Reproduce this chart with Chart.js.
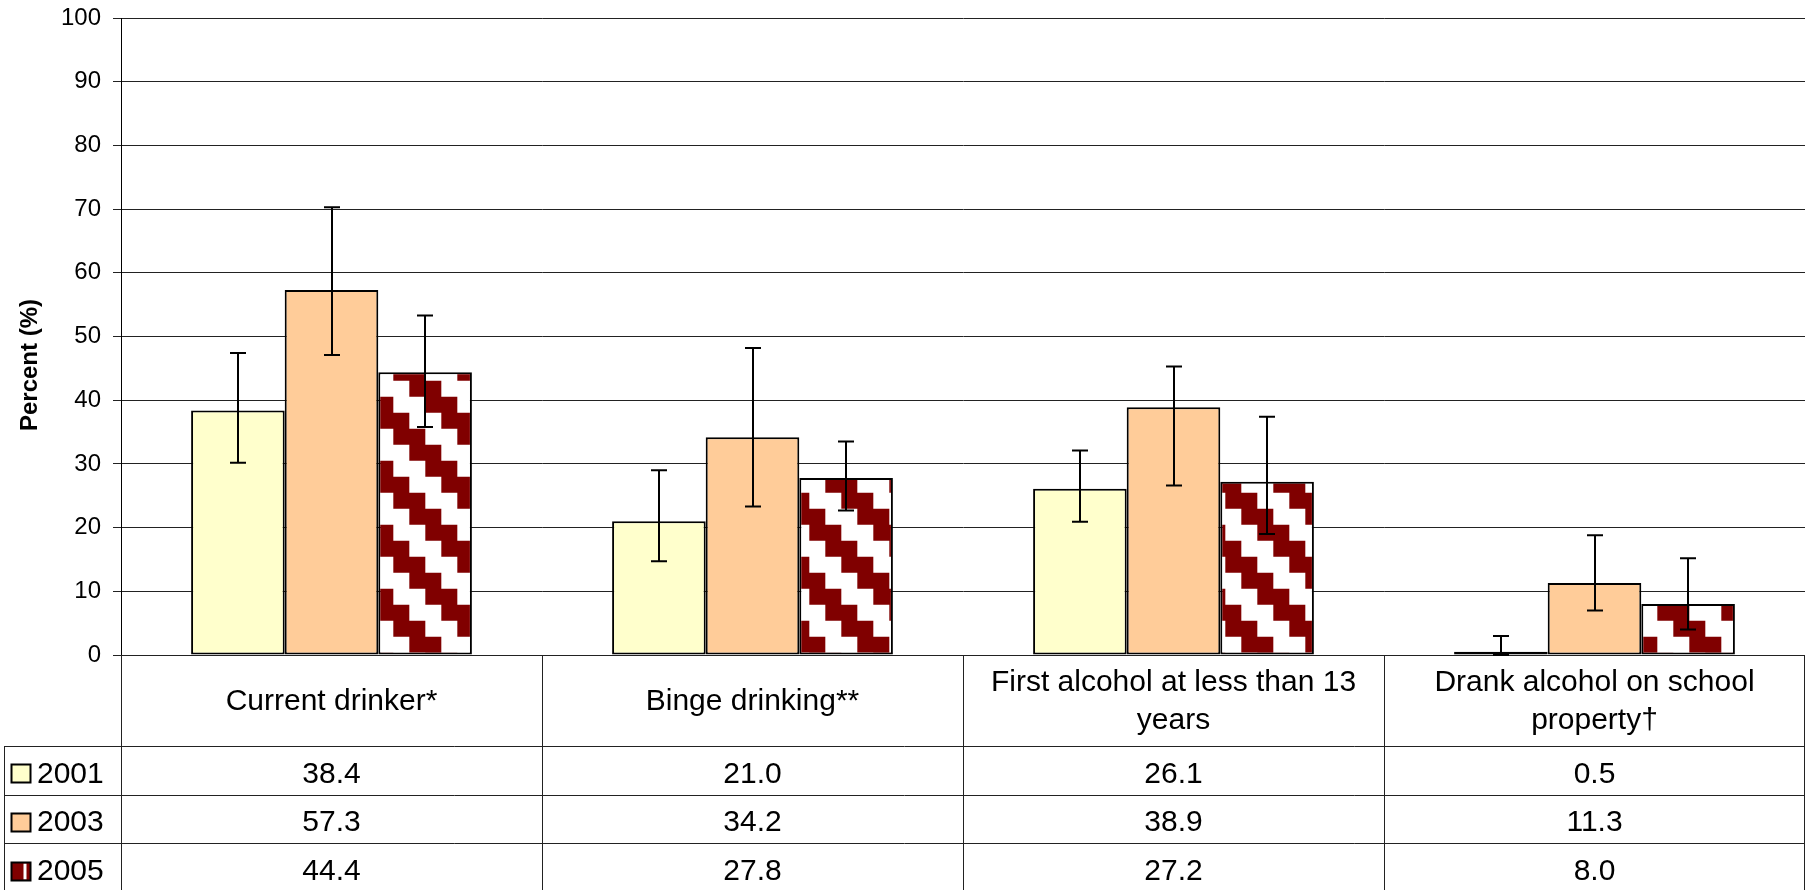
<!DOCTYPE html>
<html><head><meta charset="utf-8">
<style>html,body{margin:0;padding:0;background:#fff;overflow:hidden}#wrap{width:1811px;height:890px;position:relative}</style>
<script src="https://cdn.jsdelivr.net/npm/chart.js@4.4.1/dist/chart.umd.min.js"></script>
</head><body><div id="wrap"><canvas id="c" width="1811" height="890"></canvas></div>
<script>
// ---- data ----
const categories = [['Current drinker*'], ['Binge drinking**'], ['First alcohol at less than 13', 'years'], ['Drank alcohol on school', 'property\u2020']];
const seriesNames = ['2001', '2003', '2005'];
const values2001 = [38.4, 21.0, 26.1, 0.5];
const values2003 = [57.3, 34.2, 38.9, 11.3];
const values2005 = [44.4, 27.8, 27.2, 8.0];
const lower2001 = [30.2, 14.7, 20.9, 0.0];
const upper2001 = [47.4, 29.0, 32.1, 3.0];
const lower2003 = [47.1, 23.3, 26.6, 7.0];
const upper2003 = [70.3, 48.2, 45.3, 18.8];
const lower2005 = [35.8, 22.7, 19.0, 4.0];
const upper2005 = [53.3, 33.5, 37.4, 15.2];
const yTicks = [0, 10, 20, 30, 40, 50, 60, 70, 80, 90, 100];
const yTitle = 'Percent (%)';

const FONT = '"Liberation Sans", Arial, sans-serif';
const DARK = '#800000';
const PLOT_TOP = 18, PLOT_BOTTOM = 655;

// 2005 pattern: staircase diagonal bands
function makePattern() {
  const cell = 16, tile = document.createElement('canvas');
  tile.width = cell * 4; tile.height = cell * 4;
  const t = tile.getContext('2d');
  t.fillStyle = '#fff'; t.fillRect(0, 0, tile.width, tile.height);
  t.fillStyle = DARK;
  for (let r = 0; r < 4; r++) for (let c = 0; c < 4; c++) {
    const d = ((c - r) % 4 + 4) % 4;
    if (d === 0 || d === 1) t.fillRect(c * cell, r * cell, cell, cell);
  }
  const p = document.getElementById('c').getContext('2d').createPattern(tile, 'repeat');
  if (p.setTransform) p.setTransform(new DOMMatrix().translate(25.3, 60.7));
  return p;
}
const pattern2005 = makePattern();

const seriesValues = [values2001, values2003, values2005];
const seriesLower = [lower2001, lower2003, lower2005];
const seriesUpper = [upper2001, upper2003, upper2005];
const seriesFill = ['#FFFFCC', '#FFCC99', pattern2005];

const errorPlugin = {
  id: 'errorBars',
  afterDatasetsDraw(chart) {
    const ctx = chart.ctx, y = chart.scales.y;
    ctx.save();
    ctx.strokeStyle = '#000'; ctx.lineWidth = 2;
    chart.data.datasets.forEach((ds, i) => {
      const meta = chart.getDatasetMeta(i);
      meta.data.forEach((bar, j) => {
        const x = Math.round(bar.x);
        const yl = y.getPixelForValue(seriesLower[i][j]);
        const yu = y.getPixelForValue(seriesUpper[i][j]);
        ctx.beginPath();
        ctx.moveTo(x, yl); ctx.lineTo(x, yu);
        ctx.moveTo(x - 8, yl); ctx.lineTo(x + 8, yl);
        ctx.moveTo(x - 8, yu); ctx.lineTo(x + 8, yu);
        ctx.stroke();
      });
    });
    ctx.restore();
  }
};

const tablePlugin = {
  id: 'dataTable',
  afterDraw(chart) {
    const ctx = chart.ctx, xs = chart.scales.x, ca = chart.chartArea;
    const n = categories.length;
    const colW = (xs.right - xs.left) / n;
    const catTop = ca.bottom, catBottom = 746, rowH = 48.6, bottom = 890;
    const legLeft = 4;
    ctx.save();
    ctx.strokeStyle = '#222'; ctx.lineWidth = 1;
    ctx.beginPath();
    for (let i = 0; i <= n; i++) {
      const bx = Math.round(xs.getPixelForValue(i) - colW / 2) + 0.5;
      const bxx = i === n ? Math.round(xs.getPixelForValue(n - 1) + colW / 2) - 0.5 : bx;
      ctx.moveTo(bxx, catTop); ctx.lineTo(bxx, bottom);
    }
    ctx.moveTo(legLeft + 0.5, catBottom); ctx.lineTo(legLeft + 0.5, bottom);
    for (let r = 0; r < 3; r++) {
      const yy = Math.round(catBottom + r * rowH) + 0.5;
      ctx.moveTo(legLeft, yy); ctx.lineTo(xs.right, yy);
    }
    ctx.stroke();

    ctx.fillStyle = '#000';
    ctx.textAlign = 'center'; ctx.textBaseline = 'middle';
    ctx.font = '30px ' + FONT;
    categories.forEach((lines, i) => {
      const cx = xs.getPixelForValue(i);
      const cy = (catTop + catBottom) / 2 + 1;
      const lh = 38;
      lines.forEach((ln, k) => {
        ctx.fillText(ln, cx, cy + (k - (lines.length - 1) / 2) * lh);
      });
    });
    seriesNames.forEach((name, r) => {
      const cy = catBottom + r * rowH + rowH / 2 + 4;
      ctx.fillStyle = '#000';
      seriesValues[r].forEach((v, i) => {
        ctx.textAlign = 'center';
        ctx.fillText(v.toFixed(1), xs.getPixelForValue(i), cy);
      });
      const sx = 11.5, sy = Math.round(cy - 10) + 0.5, sw = 19, sh = 18;
      if (r === 2) {
        ctx.fillStyle = DARK; ctx.fillRect(sx, sy, sw, sh);
        ctx.fillStyle = '#fff'; ctx.fillRect(sx + sw - 7, sy + 1, 3, sh - 2);
      } else {
        ctx.fillStyle = seriesFill[r]; ctx.fillRect(sx, sy, sw, sh);
      }
      ctx.strokeStyle = '#000'; ctx.lineWidth = 2;
      ctx.strokeRect(sx, sy, sw, sh);
      ctx.fillStyle = '#000';
      ctx.textAlign = 'left';
      ctx.fillText(name, 37, cy);
    });
    ctx.save();
    ctx.translate(30, 365);
    ctx.rotate(-Math.PI / 2);
    ctx.font = 'bold 24px ' + FONT;
    ctx.textAlign = 'center'; ctx.textBaseline = 'middle';
    ctx.fillText(yTitle, 0, 0);
    ctx.restore();
    ctx.restore();
  }
};

const chart = new Chart(document.getElementById('c'), {
  type: 'bar',
  data: {
    labels: categories.map(c => c.join(' ')),
    datasets: seriesNames.map((name, i) => ({
      label: name,
      data: seriesValues[i],
      backgroundColor: seriesFill[i],
      borderColor: '#000',
      borderWidth: 2,
      borderSkipped: false,
      categoryPercentage: 0.667,
      barPercentage: 1.0
    }))
  },
  options: {
    responsive: false,
    animation: false,
    devicePixelRatio: 1,
    layout: { padding: { top: PLOT_TOP, right: 6, bottom: 890 - PLOT_BOTTOM, left: 0 } },
    plugins: { legend: { display: false }, tooltip: { enabled: false } },
    scales: {
      x: { display: false },
      y: {
        min: 0, max: 100,
        afterBuildTicks(s) { s.ticks = yTicks.map(v => ({ value: v })); },
        afterFit(s) { s.width = 121; s.paddingTop = 0; s.paddingBottom = 0; },
        ticks: { color: '#000', font: { family: FONT, size: 24 }, padding: 12 },
        grid: { color: '#222', lineWidth: 1, tickLength: 8 },
        border: { display: true, color: '#000', width: 1 }
      }
    }
  },
  plugins: [errorPlugin, tablePlugin]
});
</script></body></html>
